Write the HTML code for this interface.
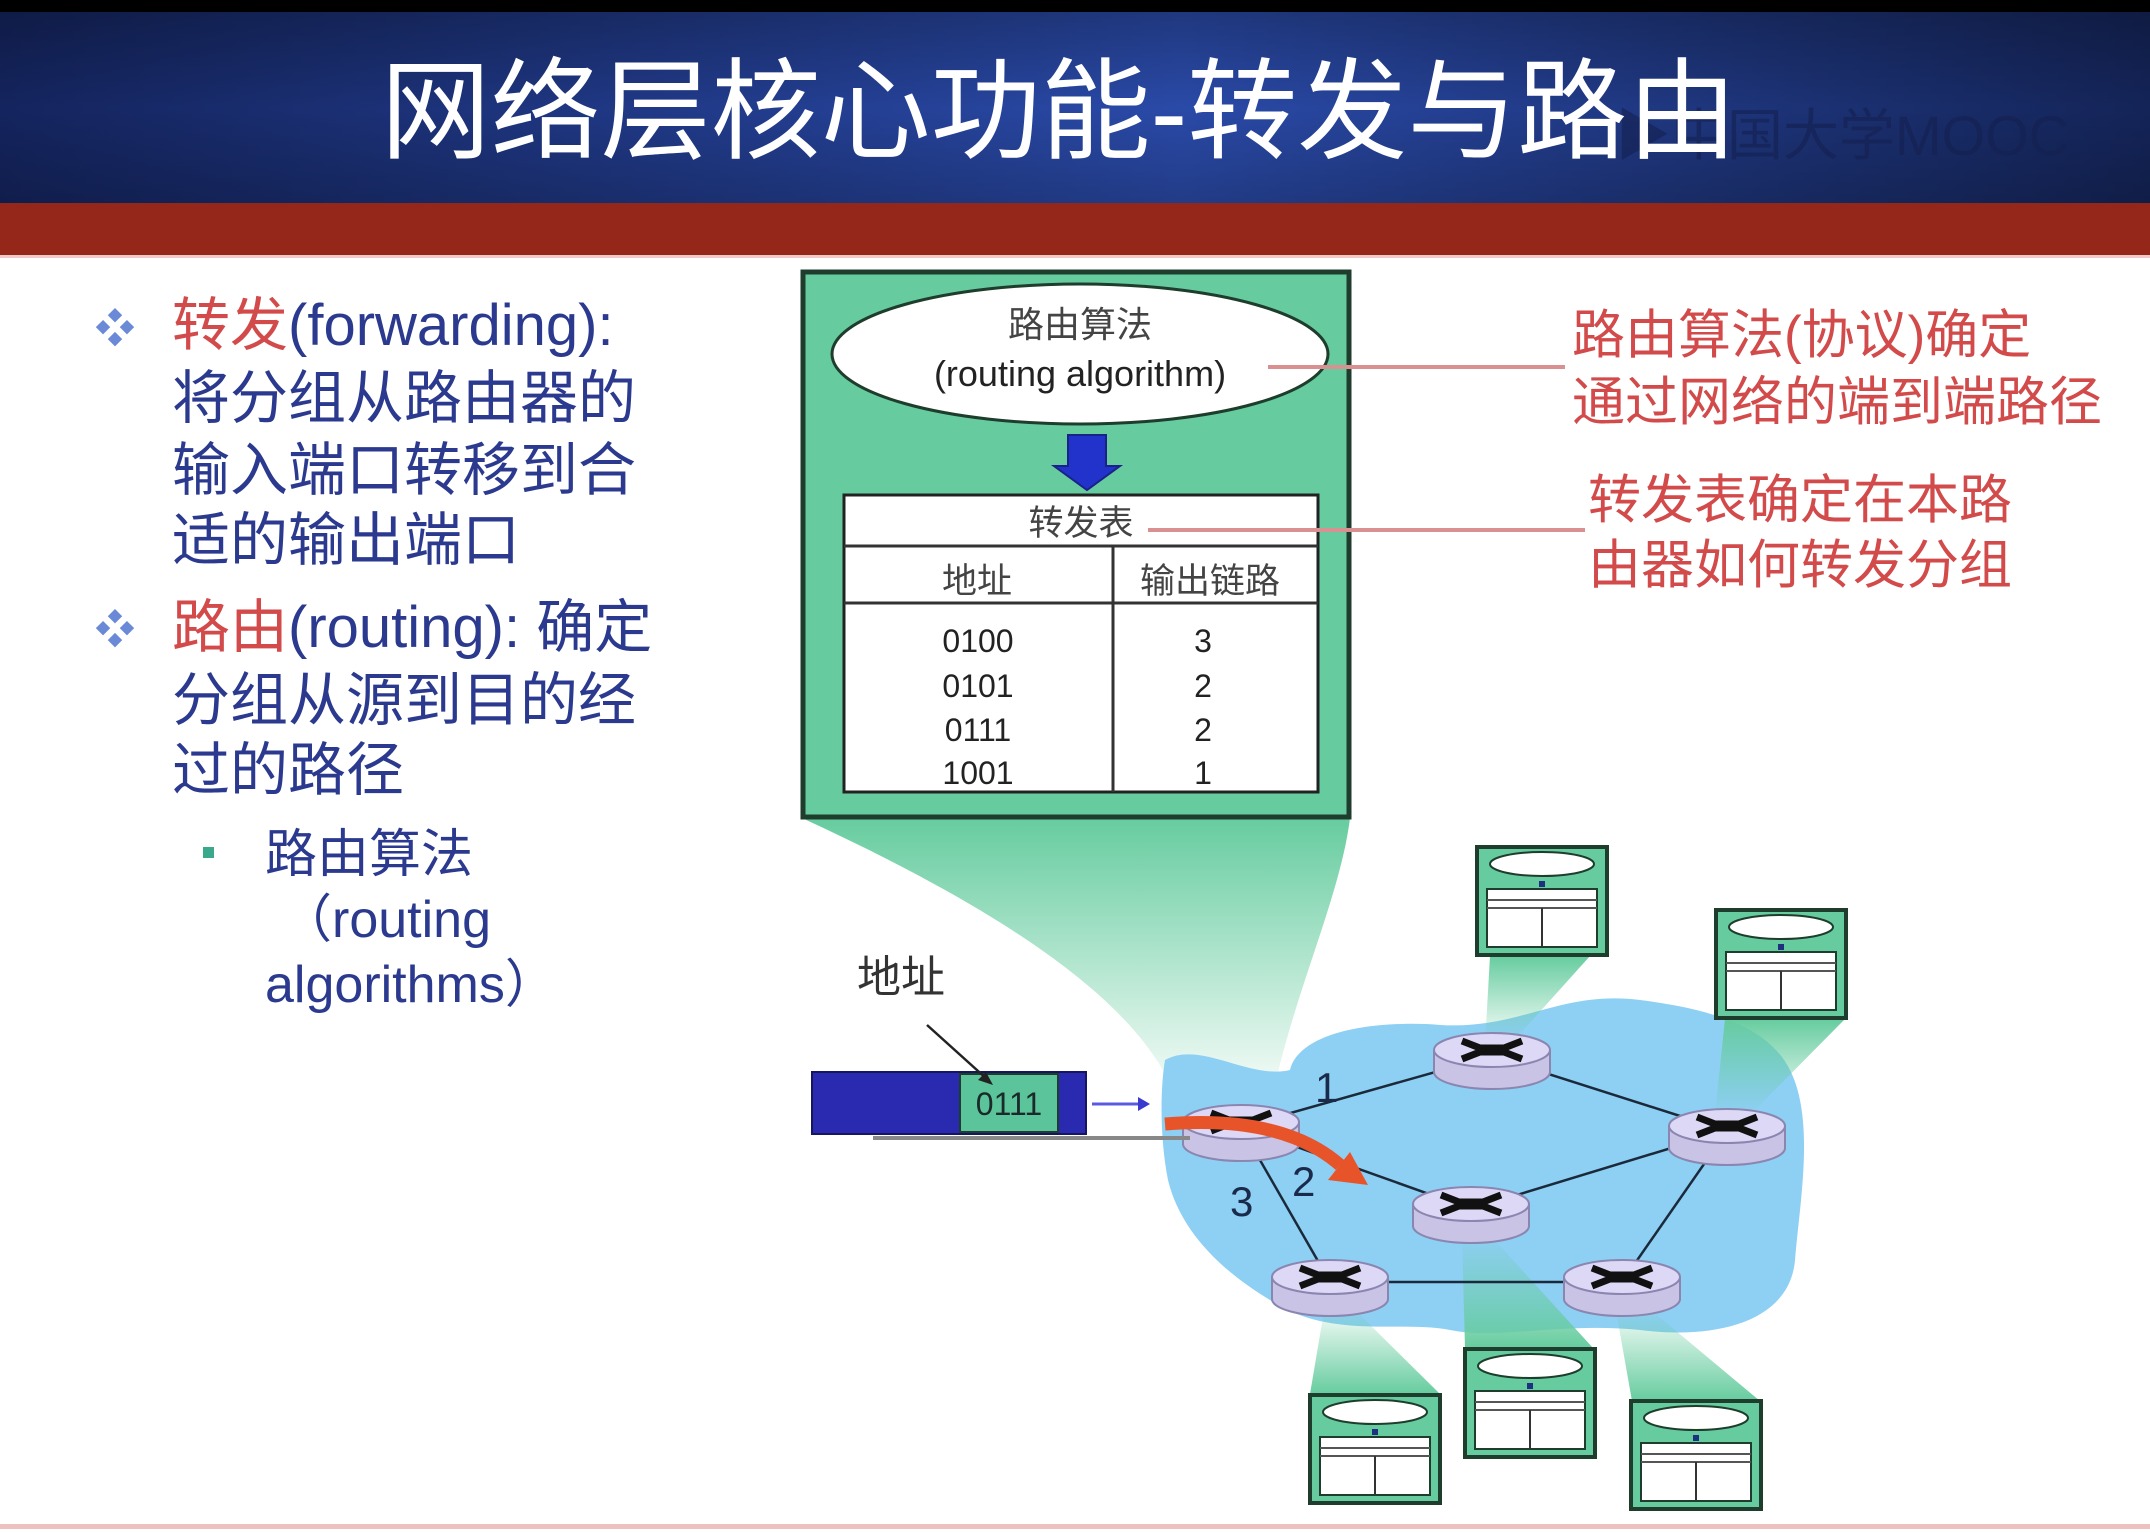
<!DOCTYPE html>
<html><head><meta charset="utf-8"><style>
html,body{margin:0;padding:0;background:#fff;}
svg{display:block;}
</style></head><body>
<svg width="2150" height="1534" viewBox="0 0 2150 1534" xmlns="http://www.w3.org/2000/svg" font-family="Liberation Sans, Noto Sans CJK SC, sans-serif">
<defs>
<linearGradient id="hdr" x1="0" y1="0" x2="1" y2="0">
<stop offset="0" stop-color="#14245e"/><stop offset="0.55" stop-color="#2a4aa8"/><stop offset="1" stop-color="#142458"/>
</linearGradient>
<linearGradient id="hdrv" x1="0" y1="0" x2="0" y2="1">
<stop offset="0" stop-color="#000" stop-opacity="0.25"/><stop offset="0.5" stop-color="#000" stop-opacity="0"/><stop offset="1" stop-color="#000" stop-opacity="0.2"/>
</linearGradient>
<linearGradient id="fun" x1="0" y1="0" x2="0" y2="1">
<stop offset="0" stop-color="#66cc9f"/><stop offset="1" stop-color="#66cc9f" stop-opacity="0"/>
</linearGradient>
<linearGradient id="funUp" x1="0" y1="1" x2="0" y2="0">
<stop offset="0" stop-color="#66cc9f"/><stop offset="1" stop-color="#66cc9f" stop-opacity="0"/>
</linearGradient>
<g id="router">
<rect x="-58" y="0" width="116" height="22" fill="#c9c3e6" stroke="#8a86b0" stroke-width="2"/>
<ellipse cx="0" cy="22" rx="58" ry="17" fill="#c9c3e6" stroke="#8a86b0" stroke-width="2"/>
<rect x="-57" y="0" width="114" height="22" fill="#c9c3e6"/>
<ellipse cx="0" cy="0" rx="58" ry="17" fill="#ddd8f5" stroke="#8a86b0" stroke-width="2"/>
<path d="M-30 -9 L-12 -2 L12 -2 L30 -9 M-30 9 L-12 2 L12 2 L30 9" stroke="#111" stroke-width="7" fill="none"/>
</g>
<g id="tbl">
<rect x="0" y="0" width="130" height="108" fill="#66cc9f" stroke="#1e3d2c" stroke-width="4"/>
<ellipse cx="65" cy="17" rx="52" ry="12" fill="#fff" stroke="#1e3d2c" stroke-width="2"/>
<rect x="62" y="34" width="6" height="6" fill="#1e3080"/>
<rect x="10" y="42" width="110" height="58" fill="#fff" stroke="#1e3d2c" stroke-width="2"/>
<line x1="10" y1="53" x2="120" y2="53" stroke="#555" stroke-width="2"/>
<line x1="10" y1="61" x2="120" y2="61" stroke="#555" stroke-width="2"/>
<line x1="65" y1="61" x2="65" y2="100" stroke="#333" stroke-width="2"/>
</g>
</defs>

<!-- header -->
<rect x="0" y="0" width="2150" height="12" fill="#000"/>
<rect x="0" y="12" width="2150" height="192" fill="url(#hdr)"/>
<rect x="0" y="12" width="2150" height="192" fill="url(#hdrv)"/>
<rect x="0" y="203" width="2150" height="52" fill="#95261a"/>
<rect x="0" y="255" width="2150" height="3" fill="#f2c8c8"/>
<text x="1615" y="155" font-size="56" fill="#142050" fill-opacity="0.6">▶中国大学MOOC</text>
<text x="1059" y="150" font-size="110" fill="#fff" text-anchor="middle">网络层核心功能-转发与路由</text>

<!-- left text -->
<g font-size="58">
<text x="95" y="342" fill="#6a8ad8" font-size="40">❖</text>
<text x="172" y="345"><tspan fill="#d24a4a">转发</tspan><tspan fill="#2b3a8f">(forwarding):</tspan></text>
<text x="172" y="418" fill="#2b3a8f">将分组从路由器的</text>
<text x="172" y="490" fill="#2b3a8f">输入端口转移到合</text>
<text x="172" y="560" fill="#2b3a8f">适的输出端口</text>
<text x="95" y="643" fill="#6a8ad8" font-size="40">❖</text>
<text x="172" y="647"><tspan fill="#d24a4a">路由</tspan><tspan fill="#2b3a8f">(routing): 确定</tspan></text>
<text x="172" y="720" fill="#2b3a8f">分组从源到目的经</text>
<text x="172" y="790" fill="#2b3a8f">过的路径</text>
</g>
<rect x="203" y="847" width="11" height="11" fill="#3aa88a"/>
<g font-size="52" fill="#2b3a8f">
<text x="265" y="872">路由算法</text>
<text x="280" y="937">（routing</text>
<text x="265" y="1002">algorithms）</text>
</g>

<!-- big funnel -->
<path d="M802 818 C980 900 1150 1000 1180 1110 L1270 1110 C1290 1000 1340 900 1350 818 Z" fill="url(#fun)"/>

<!-- main green box -->
<rect x="803" y="272" width="546" height="545" fill="#66cc9f" stroke="#1e3d2c" stroke-width="5"/>
<ellipse cx="1080" cy="354" rx="248" ry="70" fill="#fff" stroke="#1e3d2c" stroke-width="3"/>
<text x="1080" y="337" font-size="36" fill="#444" text-anchor="middle">路由算法</text>
<text x="1080" y="386" font-size="36" fill="#222" text-anchor="middle">(routing algorithm)</text>
<path d="M1068 435 L1106 435 L1106 466 L1120 466 L1087 490 L1054 466 L1068 466 Z" fill="#2233cc" stroke="#1a2288" stroke-width="2"/>
<rect x="844" y="495" width="474" height="297" fill="#fff" stroke="#222" stroke-width="3"/>
<line x1="844" y1="546" x2="1318" y2="546" stroke="#333" stroke-width="3"/>
<line x1="844" y1="603" x2="1318" y2="603" stroke="#333" stroke-width="3"/>
<line x1="1113" y1="546" x2="1113" y2="792" stroke="#333" stroke-width="3"/>
<text x="1081" y="535" font-size="35" fill="#444" text-anchor="middle">转发表</text>
<text x="977" y="593" font-size="35" fill="#444" text-anchor="middle">地址</text>
<text x="1210" y="593" font-size="35" fill="#444" text-anchor="middle">输出链路</text>
<g font-size="32" fill="#222" text-anchor="middle">
<text x="978" y="652">0100</text><text x="1203" y="652">3</text>
<text x="978" y="697">0101</text><text x="1203" y="697">2</text>
<text x="978" y="741">0111</text><text x="1203" y="741">2</text>
<text x="978" y="784">1001</text><text x="1203" y="784">1</text>
</g>

<!-- red callouts -->
<line x1="1268" y1="367" x2="1565" y2="367" stroke="#d89090" stroke-width="4"/>
<line x1="1148" y1="530" x2="1585" y2="530" stroke="#d89090" stroke-width="4"/>
<g font-size="53" fill="#d24a4a">
<text x="1572" y="353">路由算法(协议)确定</text>
<text x="1572" y="420">通过网络的端到端路径</text>
<text x="1588" y="518">转发表确定在本路</text>
<text x="1588" y="583">由器如何转发分组</text>
</g>

<!-- cloud -->
<path d="M1165 1060 C1200 1040 1250 1080 1290 1070 C1300 1030 1380 1020 1440 1025 C1520 1030 1560 990 1640 1000 C1720 1010 1770 1030 1790 1070 C1815 1120 1800 1200 1795 1260 C1790 1320 1720 1340 1640 1330 C1560 1322 1500 1340 1450 1330 C1400 1320 1330 1340 1270 1300 C1220 1270 1180 1230 1168 1180 C1160 1140 1160 1090 1165 1060 Z" fill="#8ecff4"/>

<!-- small funnels -->
<path d="M1490 956 L1590 956 L1510 1045 L1485 1045 Z" fill="url(#fun)"/>
<path d="M1725 1019 L1845 1019 L1750 1115 L1715 1115 Z" fill="url(#fun)"/>
<path d="M1310 1394 L1440 1394 L1350 1305 L1325 1305 Z" fill="url(#funUp)"/>
<path d="M1465 1348 L1593 1348 L1490 1235 L1462 1235 Z" fill="url(#funUp)"/>
<path d="M1632 1401 L1760 1401 L1645 1305 L1615 1305 Z" fill="url(#funUp)"/>

<!-- links -->
<g stroke="#1a2a3a" stroke-width="2.5">
<line x1="1241" y1="1127" x2="1492" y2="1056"/>
<line x1="1492" y1="1056" x2="1727" y2="1131"/>
<line x1="1727" y1="1131" x2="1471" y2="1209"/>
<line x1="1471" y1="1209" x2="1241" y2="1127"/>
<line x1="1241" y1="1127" x2="1330" y2="1282"/>
<line x1="1330" y1="1282" x2="1622" y2="1282"/>
<line x1="1622" y1="1282" x2="1727" y2="1131"/>
</g>

<!-- routers -->
<use href="#router" x="1241" y="1122"/>
<use href="#router" x="1492" y="1050"/>
<use href="#router" x="1727" y="1126"/>
<use href="#router" x="1471" y="1204"/>
<use href="#router" x="1330" y="1277"/>
<use href="#router" x="1622" y="1277"/>

<g font-size="42" fill="#1a2a4a">
<text x="1315" y="1102">1</text>
<text x="1292" y="1196">2</text>
<text x="1230" y="1216">3</text>
</g>

<!-- small tables -->
<use href="#tbl" x="1477" y="847"/>
<use href="#tbl" x="1716" y="910"/>
<use href="#tbl" x="1310" y="1395"/>
<use href="#tbl" x="1465" y="1349"/>
<use href="#tbl" x="1631" y="1401"/>

<!-- packet -->
<line x1="873" y1="1138" x2="1190" y2="1138" stroke="#888" stroke-width="4"/>
<rect x="812" y="1072" width="274" height="62" fill="#2a2ab0" stroke="#151560" stroke-width="2"/>
<rect x="960" y="1074" width="98" height="58" fill="#5cc49a" stroke="#1e3d2c" stroke-width="2"/>
<text x="1009" y="1115" font-size="32" fill="#1a2a2a" text-anchor="middle">0111</text>
<line x1="1092" y1="1104" x2="1140" y2="1104" stroke="#5a5ae0" stroke-width="3"/>
<path d="M1150 1104 L1138 1097 L1138 1111 Z" fill="#3a3ad0"/>
<text x="857" y="992" font-size="44" fill="#333">地址</text>
<line x1="927" y1="1025" x2="988" y2="1080" stroke="#222" stroke-width="2.5"/>
<path d="M993 1085 L978 1080 L986 1072 Z" fill="#222"/>

<!-- orange arrow -->
<path d="M1165 1124 C1240 1118 1300 1130 1340 1165" stroke="#e8542a" stroke-width="13" fill="none"/>
<path d="M1368 1185 L1328 1180 L1350 1152 Z" fill="#e8542a"/>

<!-- bottom line -->
<rect x="0" y="1524" width="2150" height="5" fill="#efc0c0"/>
</svg>
</body></html>
